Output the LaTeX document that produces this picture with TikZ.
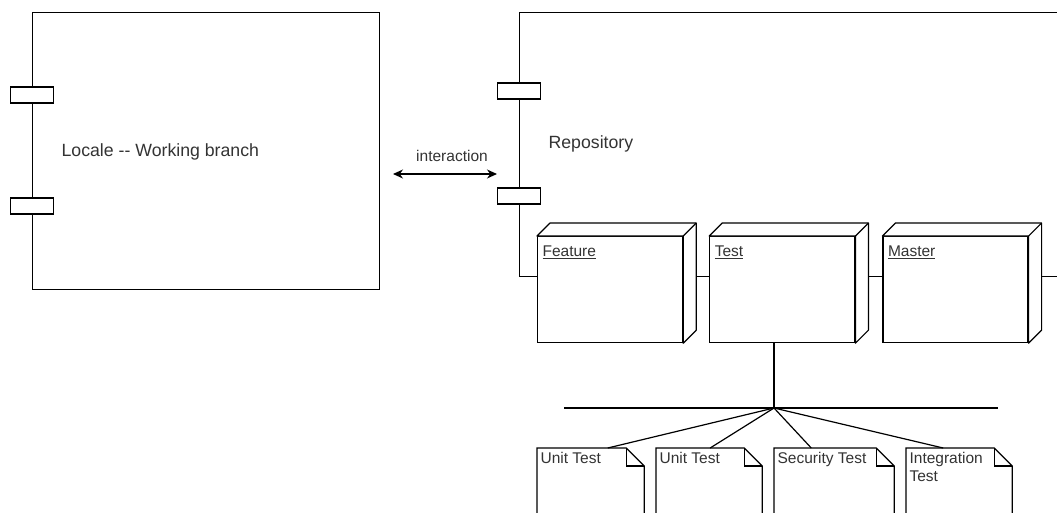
\documentclass[tikz,border=0pt]{standalone}
\usepackage{fontspec}
\setmainfont{Liberation Sans}
\usetikzlibrary{arrows.meta,positioning,calc}
\definecolor{LabelGray}{RGB}{51,51,51}

\begin{document}
\begin{tikzpicture}[
  x=1pt, y=-1pt, line width=1.2pt,
  comp/.style={draw, anchor=north west, inner sep=0pt},
  port/.style={draw, fill=white, minimum width=43pt, minimum height=16pt, inner sep=0pt},
  front/.style={draw, fill=white, anchor=north west, minimum width=145pt, minimum height=106pt, inner sep=0pt},
  note/.style={fill=white, anchor=north west, minimum height=80pt, inner sep=0pt},
  txt/.style={text=LabelGray, font=\fontsize{15.5}{18}\selectfont, inner sep=0pt},
  big/.style={text=LabelGray, font=\fontsize{17.7}{21}\selectfont, inner sep=0pt},
  arr/.style={{Stealth[length=10pt,width=9pt]}-{Stealth[length=10pt,width=9pt]}},
  node distance=26pt
]
  \useasboundingbox (0,0) rectangle (1057,513);
  \clip (0,0) rectangle (1057,513);

  % Components
  \node[comp, minimum width=347pt, minimum height=277pt] (local) at (32,12) {};
  \node[comp, minimum width=600pt, minimum height=264pt] (repo) at (519,12) {};
  \node[port] (lp1) at (32,95) {};
  \node[port] (lp2) at (32,206) {};
  \node[port] (rp1) at (519,91) {};
  \node[port] (rp2) at (519,196) {};
  \node[big, anchor=west] (localtxt) at (61,152) {Locale -{}- Working branch};
  \node[big, anchor=west] (repotxt) at (548,144) {Repository};

  \coordinate (ia) at (393,174);
  \coordinate (ib) at (497,174);
  \draw[arr] (ia) -- node[txt, above=12pt, xshift=7pt] (iatxt) {interaction} (ib);

  % Branches
  \node[front] (feat) at (537,236) {};
  \node[front, right=of feat] (test) {};
  \node[front, right=27pt of test] (mast) {};
  \foreach \n/\t in {feat/Feature, test/Test, mast/Master} {
    \coordinate (\n bnw) at ($(\n.north west)+(13,-13)$);
    \coordinate (\n bne) at ($(\n.north east)+(13,-13)$);
    \coordinate (\n bse) at ($(\n.south east)+(13,-13)$);
    \draw[fill=white, line join=round] (\n.north west) -- (\n bnw) -- (\n bne)
      -- (\n bse) -- (\n.south east) -- (\n.north east) -- cycle;
    \draw (\n.north east) -- (\n bne);
    \node[txt, anchor=north west] (\n lbl) at ($(\n.north west)+(5,9)$) {\underline{\t}};
  }

  % Tests
  \coordinate (hub) at (774,408);
  \coordinate (busl) at (564,408);
  \coordinate (busr) at (998,408);
  \draw (hub |- test.south) -- (hub);
  \draw (busl) -- (busr);

  \node[note, minimum width=106pt] (ut1) at (537,448) {};
  \node[note, minimum width=105pt] (ut2) at (656,448) {};
  \node[note, minimum width=119pt] (st) at (774,448) {};
  \node[note, minimum width=105pt] (it) at (906,448) {};
  \foreach \n/\p in {ut1/0.66, ut2/0.51, st/0.31, it/0.35} {
    \draw (hub) -- ($(\n.north west)!\p!(\n.north east)$);
    \draw (\n.south west) -- (\n.north west) -- ($(\n.north east)+(-18,0)$)
      -- ($(\n.north east)+(0,18)$) -- (\n.south east);
    \draw ($(\n.north east)+(-18,0)$) |- ($(\n.north east)+(0,18)$);
  }
  \node[txt, anchor=north west] (ut1txt) at ($(ut1.north west)+(3,4)$) {Unit Test};
  \node[txt, anchor=north west] (ut2txt) at ($(ut2.north west)+(3,4)$) {Unit Test};
  \node[txt, anchor=north west] (sttxt) at ($(st.north west)+(3,4)$) {Security Test};
  \node[txt, anchor=north west, align=left] (ittxt) at ($(it.north west)+(3,4)$) {Integration\\Test};
\end{tikzpicture}
\end{document}
